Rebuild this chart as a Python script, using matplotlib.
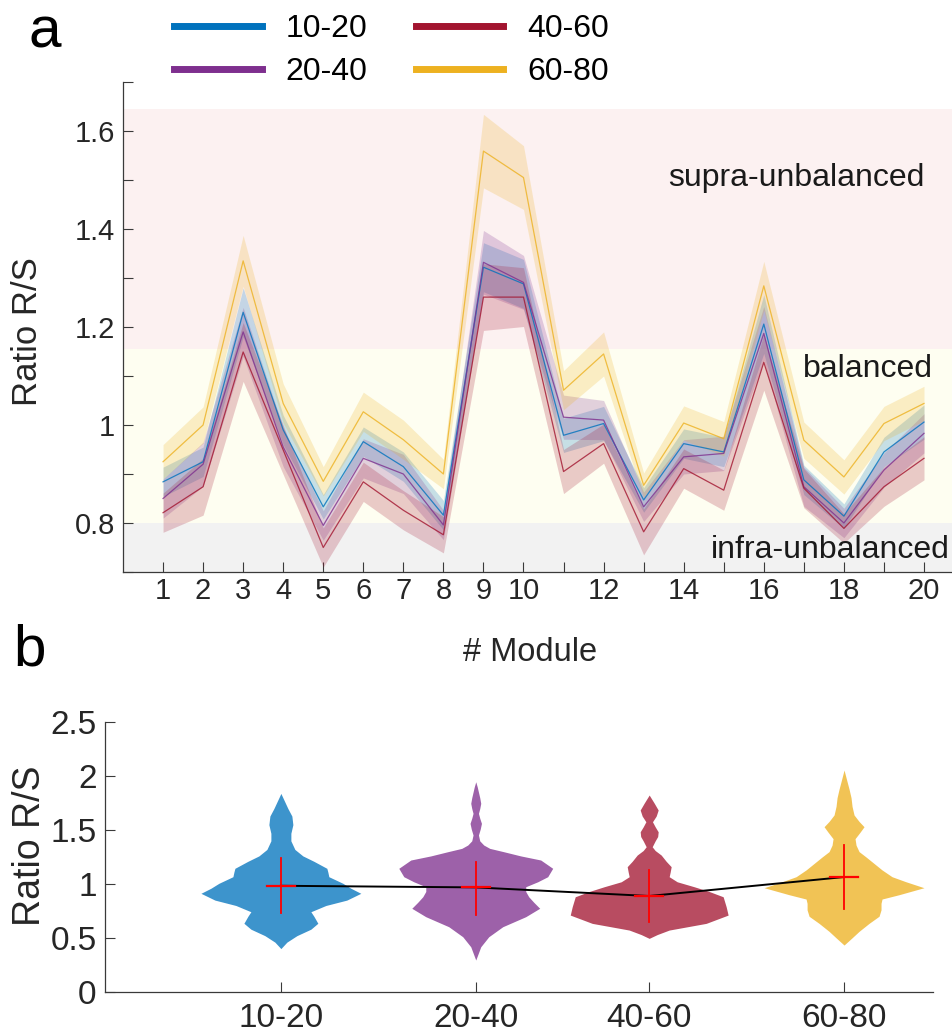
#!/usr/bin/env python3
"""Ratio R/S per module (a) and per age group (b)."""

import matplotlib

matplotlib.use("Agg")
import matplotlib.pyplot as plt
from matplotlib.lines import Line2D
import numpy as np

FIG_W, FIG_H = 953, 1034
DPI = 100

AGE_GROUPS = ["10-20", "20-40", "40-60", "60-80"]
COLORS = ["#0072BD", "#7E2F8E", "#A2142F", "#EDB120"]

# ---- panel a: mean ratio per module with a shaded band ----
MODULES = list(range(1, 21))
MODULE_TICK_LABELS = ["1", "2", "3", "4", "5", "6", "7", "8", "9", "10",
                      "", "12", "", "14", "", "16", "", "18", "", "20"]
RATIO_TICKS = [0.7, 0.8, 0.9, 1.0, 1.1, 1.2, 1.3, 1.4, 1.5, 1.6, 1.7]
RATIO_TICK_LABELS = ["", "0.8", "", "1", "", "1.2", "", "1.4", "", "1.6", ""]

mean_10_20 = [0.884, 0.925, 1.230, 0.990, 0.833, 0.966, 0.915, 0.816, 1.322, 1.288,
              0.979, 1.003, 0.847, 0.962, 0.945, 1.206, 0.888, 0.814, 0.945, 1.006]
mean_20_40 = [0.850, 0.920, 1.190, 0.955, 0.795, 0.932, 0.900, 0.796, 1.332, 1.291,
              1.016, 1.010, 0.833, 0.935, 0.942, 1.187, 0.874, 0.800, 0.908, 0.983]
mean_40_60 = [0.821, 0.874, 1.149, 0.949, 0.750, 0.884, 0.826, 0.776, 1.261, 1.261,
              0.905, 0.962, 0.782, 0.911, 0.867, 1.128, 0.871, 0.789, 0.874, 0.932]
mean_60_80 = [0.925, 1.000, 1.335, 1.044, 0.885, 1.027, 0.970, 0.900, 1.559, 1.505,
              1.071, 1.145, 0.877, 1.004, 0.972, 1.284, 0.969, 0.894, 1.003, 1.044]

band_10_20 = [0.030, 0.030, 0.050, 0.030, 0.025, 0.030, 0.030, 0.030, 0.050, 0.050,
              0.035, 0.035, 0.025, 0.030, 0.030, 0.060, 0.030, 0.025, 0.030, 0.035]
band_20_40 = [0.040, 0.045, 0.050, 0.040, 0.030, 0.040, 0.040, 0.030, 0.065, 0.055,
              0.045, 0.040, 0.030, 0.035, 0.035, 0.055, 0.040, 0.030, 0.035, 0.040]
band_40_60 = [0.040, 0.058, 0.060, 0.050, 0.040, 0.040, 0.040, 0.037, 0.068, 0.060,
              0.045, 0.040, 0.047, 0.040, 0.041, 0.057, 0.040, 0.030, 0.040, 0.044]
band_60_80 = [0.035, 0.037, 0.052, 0.040, 0.030, 0.040, 0.040, 0.030, 0.075, 0.065,
              0.040, 0.045, 0.025, 0.035, 0.035, 0.050, 0.037, 0.035, 0.035, 0.035]

# regime limits on the ratio axis
INFRA_LIMIT = 0.8
SUPRA_LIMIT = 1.156
SUPRA_TOP = 1.645

# ---- panel b: violin outlines (ratio level, half width in px) ----
violin_10_20_y = [0.40, 0.46, 0.52, 0.58, 0.635, 0.70, 0.742, 0.80, 0.85, 0.913, 0.96,
                  1.006, 1.067, 1.11, 1.145, 1.21, 1.26, 1.32, 1.40, 1.47, 1.55, 1.63,
                  1.70, 1.78, 1.84]
violin_10_20_w = [0, 6, 16, 30, 37, 33, 30, 45, 66, 80, 70, 62, 48, 47, 46, 33, 22, 14,
                  10, 10, 12, 11, 7, 3, 0]
violin_20_40_y = [0.294, 0.417, 0.51, 0.603, 0.696, 0.774, 0.83, 0.881, 0.93, 0.974,
                  1.02, 1.067, 1.145, 1.222, 1.26, 1.299, 1.33, 1.361, 1.40, 1.454,
                  1.51, 1.562, 1.61, 1.655, 1.70, 1.748, 1.80, 1.84, 1.90, 1.948]
violin_20_40_w = [0, 5, 13, 27, 50, 64, 58, 53, 50, 50, 62, 72, 77, 65, 45, 28, 14, 8,
                  4, 2.7, 4.5, 5.7, 4, 2.7, 4, 5, 4, 3, 1.5, 0]
violin_40_60_y = [0.495, 0.53, 0.572, 0.634, 0.711, 0.789, 0.881, 0.93, 0.974, 1.02,
                  1.067, 1.11, 1.16, 1.21, 1.268, 1.31, 1.345, 1.40, 1.44, 1.484, 1.53,
                  1.577, 1.63, 1.686, 1.75, 1.825]
violin_40_60_w = [0, 8, 20, 57, 79, 77, 74, 60, 45, 28, 20, 21, 22, 17, 12, 6, 3, 6,
                  8.5, 9, 6, 3.3, 7, 9, 5, 0]
violin_60_80_y = [0.433, 0.50, 0.56, 0.634, 0.70, 0.76, 0.82, 0.86, 0.90, 0.965, 1.02,
                  1.067, 1.13, 1.19, 1.25, 1.30, 1.36, 1.42, 1.48, 1.531, 1.58, 1.64,
                  1.72, 1.80, 1.88, 1.95, 2.057]
violin_60_80_w = [0, 8, 15, 25, 35, 37, 37, 38, 55, 80, 62, 48, 38, 30, 22, 15, 12, 11,
                  16, 20, 15, 10, 8, 7, 5, 3, 0]

group_mean = [0.983, 0.968, 0.888, 1.064]
group_low = [0.727, 0.711, 0.649, 0.764]
group_high = [1.237, 1.206, 1.129, 1.361]
GROUP_TICKS = [0, 0.5, 1, 1.5, 2, 2.5]
GROUP_TICK_LABELS = ["0", "0.5", "1", "1.5", "2", "2.5"]

# x positions of the violins (px of the original figure / px per unit)
VIOLIN_POS = [1.0, 2.0, 2.89, 3.89]
PX_PER_UNIT = 195.0

SANS = ["Liberation Sans", "DejaVu Sans"]
INK = "#262626"


def fx(px):
    return px / FIG_W


def fy(py):
    return 1 - py / FIG_H


def style_axis(ax, size):
    for side in ("top", "right"):
        ax.spines[side].set_visible(False)
    for side in ("left", "bottom"):
        ax.spines[side].set_color("#3a3a3a")
        ax.spines[side].set_linewidth(0.9)
    ax.tick_params(direction="in", length=7, width=0.8, color="#3a3a3a",
                   labelcolor=INK, labelsize=size)
    for label in ax.get_xticklabels() + ax.get_yticklabels():
        label.set_family(SANS)


def plot_modules(fig):
    ax = fig.add_axes([fx(123), fy(572), fx(953 - 123), (572 - 82) / FIG_H])
    ax.axhspan(0.7, INFRA_LIMIT, color="#f2f2f2", lw=0, zorder=0)
    ax.axhspan(INFRA_LIMIT, SUPRA_LIMIT, color="#fefef1", lw=0, zorder=0)
    ax.axhspan(SUPRA_LIMIT, SUPRA_TOP, color="#fcf1f1", lw=0, zorder=0)

    means = [mean_10_20, mean_20_40, mean_40_60, mean_60_80]
    bands = [band_10_20, band_20_40, band_40_60, band_60_80]
    for mean, band, color in zip(means, bands, COLORS):
        m = np.array(mean)
        b = np.array(band)
        ax.fill_between(MODULES, m - b, m + b, color=color, alpha=0.22, lw=0, zorder=2)
        ax.plot(MODULES, m, color=color, lw=0.9, alpha=0.8, zorder=3)

    ax.set_xlim(0, (953 - 123) / 40.05)
    ax.set_ylim(0.7, 1.7)
    ax.set_xticks(MODULES)
    ax.set_xticklabels(MODULE_TICK_LABELS)
    ax.set_yticks(RATIO_TICKS)
    ax.set_yticklabels(RATIO_TICK_LABELS)
    style_axis(ax, 21)
    ax.tick_params(axis="x", pad=3.5)
    ax.tick_params(axis="y", pad=5.5)

    ax.text(20.02, 1.488, "supra-unbalanced", ha="right", va="baseline",
            fontsize=23, family=SANS, color="#1a1a1a", zorder=5)
    ax.text(20.22, 1.097, "balanced", ha="right", va="baseline",
            fontsize=23, family=SANS, color="#1a1a1a", zorder=5)
    ax.text(20.65, 0.729, "infra-unbalanced", ha="right", va="baseline",
            fontsize=23, family=SANS, color="#1a1a1a", zorder=5)

    fig.text(fx(530), fy(661), "# Module", ha="center", va="baseline",
             fontsize=23.5, family=SANS, color=INK)
    fig.text(fx(28), fy(332), "Ratio R/S", ha="center", va="center",
             rotation=90, fontsize=25, family=SANS, color=INK)

    handles = [Line2D([], [], color=c, lw=5) for c in COLORS]
    fig.legend(handles, AGE_GROUPS, loc="upper left",
               bbox_to_anchor=(fx(174), fy(14)), ncol=2, frameon=False,
               prop={"family": SANS, "size": 23}, handlelength=2.75,
               handletextpad=0.75, columnspacing=1.5, labelspacing=0.42,
               borderpad=0, borderaxespad=0)


def plot_groups(fig):
    ax = fig.add_axes([fx(105), fy(991.7), fx(933 - 105), (991.7 - 722.3) / FIG_H])
    profiles = [
        (violin_10_20_y, violin_10_20_w),
        (violin_20_40_y, violin_20_40_w),
        (violin_40_60_y, violin_40_60_w),
        (violin_60_80_y, violin_60_80_w),
    ]
    for pos, (ys, ws), color in zip(VIOLIN_POS, profiles, COLORS):
        half = np.array(ws) / PX_PER_UNIT
        ax.fill_betweenx(ys, pos - half, pos + half, color=color, alpha=0.76,
                         lw=0, zorder=2)

    ax.plot(VIOLIN_POS, group_mean, color="black", lw=1.4, zorder=4)
    for pos, mean, lo, hi in zip(VIOLIN_POS, group_mean, group_low, group_high):
        ax.plot([pos, pos], [lo, hi], color="red", lw=1.3, zorder=5)
        ax.plot([pos - 0.072, pos + 0.072], [mean, mean], color="red", lw=1.6, zorder=5)

    ax.set_xlim(1 - (281 - 105) / PX_PER_UNIT, 3.89 + (933 - 844) / PX_PER_UNIT)
    ax.set_ylim(0, 2.5)
    ax.set_xticks(VIOLIN_POS)
    ax.set_xticklabels(AGE_GROUPS)
    ax.set_yticks(GROUP_TICKS)
    ax.set_yticklabels(GROUP_TICK_LABELS)
    style_axis(ax, 24)
    ax.tick_params(axis="x", pad=8)
    ax.tick_params(axis="y", pad=6)

    fig.text(fx(30), fy(846), "Ratio R/S", ha="center", va="center",
             rotation=90, fontsize=27, family=SANS, color=INK)


def main():
    fig = plt.figure(figsize=(FIG_W / DPI, FIG_H / DPI), dpi=DPI)
    plot_modules(fig)
    plot_groups(fig)
    fig.text(fx(29), fy(48), "a", ha="left", va="baseline", fontsize=42,
             family=SANS, color="black")
    fig.text(fx(13), fy(665), "b", ha="left", va="baseline", fontsize=42,
             family=SANS, color="black")
    fig.savefig("out.png", dpi=DPI)


if __name__ == "__main__":
    main()
